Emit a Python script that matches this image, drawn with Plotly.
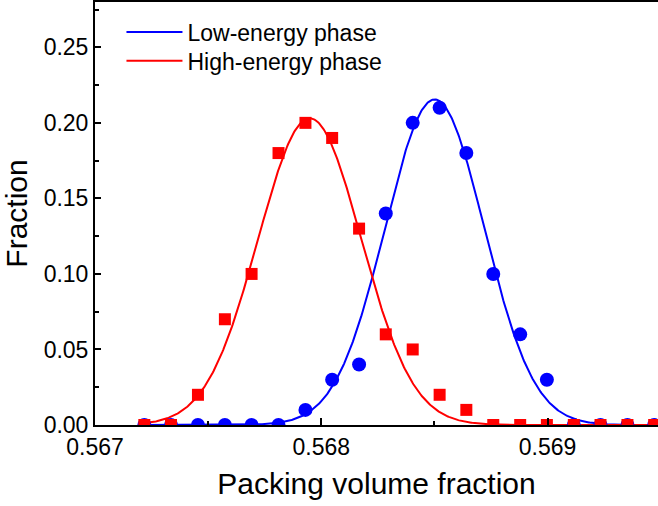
import numpy as np
import plotly.graph_objects as go

# Data
packing = [0.567218, 0.567336, 0.567455, 0.567574, 0.567692, 0.567811, 0.567930,
           0.568048, 0.568167, 0.568285, 0.568404, 0.568523, 0.568641, 0.568760,
           0.568879, 0.568997, 0.569116, 0.569234, 0.569353, 0.569471]
low_energy = [0, 0, 0, 0, 0, 0, 0.01, 0.03, 0.04, 0.14, 0.20, 0.21, 0.18, 0.10,
              0.06, 0.03, 0, 0, 0, 0]
high_energy = [0, 0, 0.02, 0.07, 0.10, 0.18, 0.20, 0.19, 0.13, 0.06, 0.05, 0.02,
               0.01, 0, 0, 0, 0, 0, 0, 0]

# Gaussian fit parameters (amplitude, centre, sigma)
low_fit = (0.2155, 0.568501, 0.000219)
high_fit = (0.2030, 0.567949, 0.000228)

x_min, x_max = 0.567, 0.569488
y_min, y_max = 0.0, 0.28

xf = np.linspace(0.5672, x_max, 600)


def gauss(x, p):
    a, c, s = p
    return a * np.exp(-(x - c) ** 2 / (2 * s ** 2))


BLUE = "#0000ff"
RED = "#ff0000"
FONT = "Arial, Liberation Sans, sans-serif"

fig = go.Figure()
fig.add_trace(go.Scatter(x=xf, y=gauss(xf, low_fit), mode="lines",
                         line=dict(color=BLUE, width=2), name="Low-energy phase",
                         legend="legend"))
fig.add_trace(go.Scatter(x=xf, y=gauss(xf, high_fit), mode="lines",
                         line=dict(color=RED, width=2), name="High-energy phase",
                         legend="legend2"))
fig.add_trace(go.Scatter(x=packing, y=low_energy, mode="markers", showlegend=False,
                         marker=dict(symbol="circle", size=14, color=BLUE)))
fig.add_trace(go.Scatter(x=packing, y=high_energy, mode="markers", showlegend=False,
                         marker=dict(symbol="square", size=12, color=RED)))

legend_style = dict(xanchor="left", yanchor="top", bgcolor="rgba(0,0,0,0)",
                    font=dict(size=23, family=FONT), itemwidth=56)

fig.update_layout(
    width=658, height=506,
    margin=dict(l=95, r=0, t=2, b=81),
    paper_bgcolor="white", plot_bgcolor="white",
    font=dict(family=FONT, color="black"),
    showlegend=True,
    legend=dict(x=0.047, y=0.98, **legend_style),
    legend2=dict(x=0.047, y=0.912, **legend_style),
    xaxis=dict(
        range=[x_min, x_max], showgrid=False, zeroline=False,
        showline=True, linecolor="black", linewidth=2, mirror=True,
        ticks="inside", ticklen=7, tickwidth=1.5, tickcolor="black",
        tickvals=[0.567, 0.568, 0.569], tickformat=".3f",
        tickfont=dict(size=23, family=FONT),
        minor=dict(ticks="inside", ticklen=4, tickwidth=1.5, tickcolor="black",
                   tickvals=[0.5675, 0.5685]),
        title=dict(text="Packing volume fraction", font=dict(size=30, family=FONT),
                   standoff=14),
    ),
    yaxis=dict(
        range=[y_min, y_max], showgrid=False, zeroline=False,
        showline=True, linecolor="black", linewidth=2, mirror=False,
        ticks="inside", ticklen=6, tickwidth=1.5, tickcolor="black",
        tickvals=[0, 0.05, 0.10, 0.15, 0.20, 0.25], tickformat=".2f",
        tickfont=dict(size=23, family=FONT),
        minor=dict(ticks="inside", ticklen=4, tickwidth=1.5, tickcolor="black",
                   tickvals=[0.025, 0.075, 0.125, 0.175, 0.225, 0.275]),
        title=dict(text="Fraction", font=dict(size=30, family=FONT), standoff=8),
    ),
)

fig.write_html("out.html")
